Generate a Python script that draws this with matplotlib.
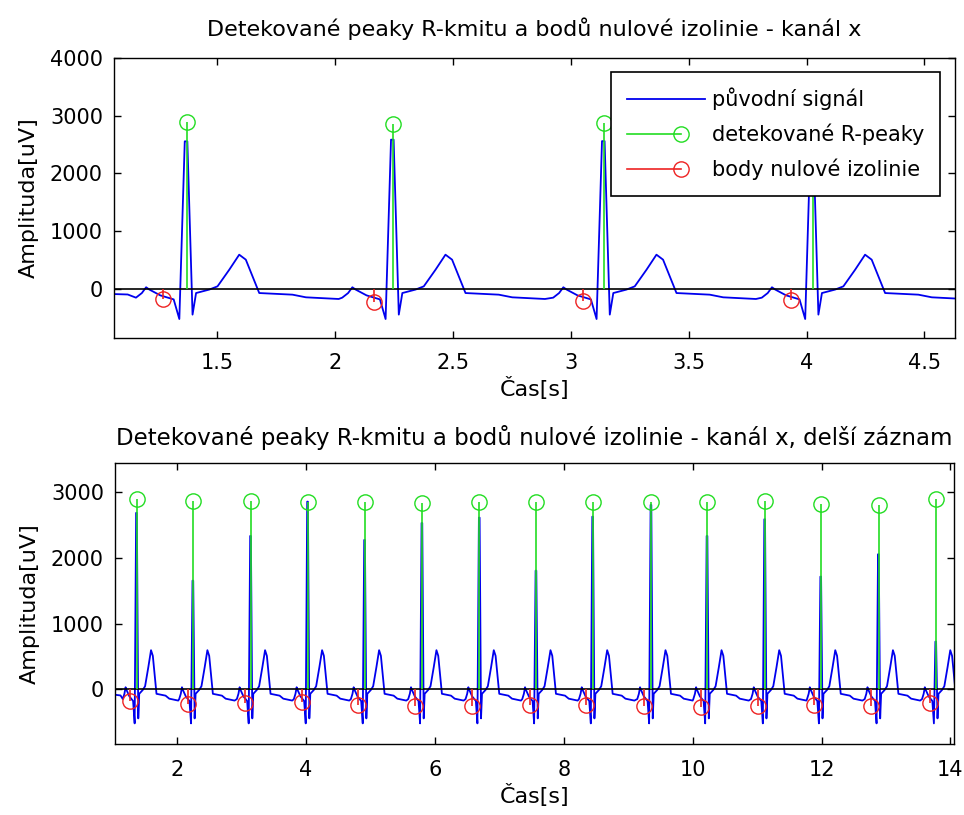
from matplotlib import pyplot as plt
from matplotlib.lines import Line2D
from matplotlib.legend_handler import HandlerBase
from matplotlib.ticker import FormatStrFormatter
import numpy as np

plt.rcParams['font.family'] = ['DejaVu Sans']

# R-peak times [s] and detected R-peak amplitudes [uV]
r_times = [1.37, 2.245, 3.14, 4.025, 4.91, 5.80, 6.69, 7.57, 8.45, 9.355,
           10.225, 11.12, 11.99, 12.885, 13.775]
r_amp = [2890, 2860, 2870, 2850, 2850, 2840, 2850, 2850, 2850, 2850,
         2850, 2870, 2820, 2810, 2900]

# zero-isoline points
iso_times = [1.27, 2.165, 3.05, 3.935, 4.81, 5.69, 6.58, 7.47, 8.35, 9.25,
             10.13, 11.01, 11.89, 12.77, 13.68]
iso_amp = [-180, -225, -215, -190, -240, -250, -255, -240, -240, -255,
           -265, -250, -240, -255, -210]

# top of the blue QRS as it shows up in each plot
peak_short = [2556, 2585, 2560, 2600]
peak_long = [2685, 1653, 2333, 2855, 2272, 2530, 2612, 1805, 2627, 2805,
             2333, 2587, 1714, 2055, 725]

# one heartbeat (offset from R [s], amplitude [uV]);
# None = R-wave top, taken from peak_short / peak_long
beat_dt = [-0.215, -0.190, -0.172, -0.158, -0.112, -0.055, -0.031, -0.008,
           0.003, 0.025, 0.040, 0.096, 0.131, 0.181, 0.223, 0.251, 0.308,
           0.449, 0.506, 0.645]
beat_amp = [-150, -70, 30, -10, -110, -180, -520, None,
            None, -444, -70, -10, 46, 335, 594, 508, -70,
            -98, -144, -173]

# signal before the first beat
lead_t = [1.0, 1.12]
lead_amp = [-80, -95]


def build_signal(times, peaks):
    t = list(lead_t)
    a = list(lead_amp)
    for r, p in zip(times, peaks):
        for dt, v in zip(beat_dt, beat_amp):
            t.append(r + dt)
            a.append(p if v is None else v)
    return t, a


class StemHandler(HandlerBase):
    # MATLAB stem legend: short line with the circle at its end
    def create_artists(self, legend, orig, xd, yd, w, h, fs, trans):
        y = h / 2 - yd
        xe = -xd + 0.70 * w
        ln = Line2D([-xd, xe], [y, y], color=orig.get_color(), lw=1.2)
        mk = Line2D([xe], [y], ls='none', marker='o', ms=11,
                    mfc='none', mec=orig.get_color(), mew=1.0)
        ln.set_transform(trans)
        mk.set_transform(trans)
        return [ln, mk]


def draw(ax, sig_t, sig_a, n, xlim, ylim, xticks, yticks, title, tsize, tpad):
    ax.plot(sig_t, sig_a, color='#0000ee', lw=1.3)
    ax.axhline(0, color='k', lw=1.2)
    ax.vlines(r_times[:n], 0, r_amp[:n], color='#22dd22', lw=1.2)
    ax.plot(r_times[:n], r_amp[:n], 'o', ms=11, mfc='none', mec='#22dd22', mew=1.0)
    ax.vlines(iso_times[:n], 0, iso_amp[:n], color='#ee2222', lw=1.2)
    ax.plot(iso_times[:n], iso_amp[:n], 'o', ms=11, mfc='none', mec='#ee2222', mew=1.0)
    ax.set_xlim(xlim)
    ax.set_ylim(ylim)
    ax.set_xticks(xticks)
    ax.set_yticks(yticks)
    ax.xaxis.set_major_formatter(FormatStrFormatter('%g'))
    ax.tick_params(direction='in', length=5, width=1.0, top=True, right=True, labelsize=15)
    ax.tick_params(axis='x', pad=11)
    ax.tick_params(axis='y', pad=8)
    for s in ax.spines.values():
        s.set_linewidth(1.0)
    ax.set_xlabel('Čas[s]', fontsize=16, labelpad=3)
    ax.set_ylabel('Amplituda[uV]', fontsize=16, labelpad=8)
    ax.set_title(title, fontsize=tsize, pad=tpad)


fig = plt.figure(figsize=(9.64, 8.15), dpi=100)
ax1 = fig.add_axes([0.1183, 0.5853, 0.872, 0.3436])
ax2 = fig.add_axes([0.1193, 0.0868, 0.8706, 0.3448])

t1, a1 = build_signal(r_times[:4], peak_short)
draw(ax1, t1, a1, 4, (1.062, 4.628), (-848, 4000), [1.5, 2, 2.5, 3, 3.5, 4, 4.5],
     [0, 1000, 2000, 3000, 4000],
     'Detekované peaky R-kmitu a bodů nulové izolinie - kanál x', 16, 16)

t2, a2 = build_signal(r_times, peak_long)
draw(ax2, t2, a2, 15, (1.034, 14.06), (-838, 3440), [2, 4, 6, 8, 10, 12, 14],
     [0, 1000, 2000, 3000],
     'Detekované peaky R-kmitu a bodů nulové izolinie - kanál x, delší záznam', 16.5, 13)

h_sig = Line2D([], [], color='#0000ee', lw=1.3)
h_r = Line2D([], [], color='#22dd22')
h_iso = Line2D([], [], color='#ee2222')
ax1.legend([h_sig, h_r, h_iso],
           ['původní signál', 'detekované R-peaky', 'body nulové izolinie'],
           handler_map={h_r: StemHandler(), h_iso: StemHandler()},
           loc='upper right', bbox_to_anchor=(0.982, 0.951), borderaxespad=0,
           fontsize=15, handlelength=3.75, handletextpad=0.32,
           labelspacing=0.65, borderpad=0.75, fancybox=False,
           edgecolor='k', framealpha=1)
ax1.get_legend().get_frame().set_linewidth(1.2)

fig.savefig('out.png', dpi=100)
